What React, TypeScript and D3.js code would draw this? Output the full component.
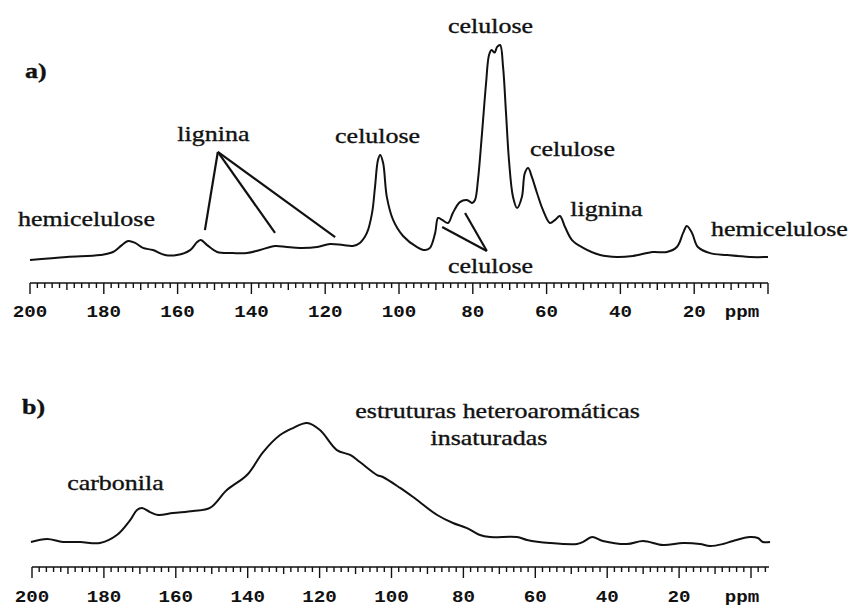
import React from "react";
import * as d3 from "d3";

// Panel a) — solid-state 13C NMR of the lignocellulosic material
const topPpm = [
  200, 190.0, 181.0, 177.5, 175.1, 173.4, 171.5, 169.4, 166.7, 163.4, 160.2, 156.6, 154.7, 153.7,
  152.0, 149.3, 145.0, 141.2, 137.7, 133.6, 130.4, 126.8, 122.2, 118.7, 115.2, 112.5, 110.6, 108.7,
  107.3, 106.5, 105.7, 105.1, 104.3, 103.3, 101.6, 98.9, 95.1, 92.9, 91.6, 90.2, 89.4, 88.3, 86.7,
  85.4, 83.5, 81.6, 80.2, 79.4, 78.6, 77.5, 76.4, 75.6, 74.9, 74.1, 73.4, 72.6, 71.8, 71.0, 70.2,
  69.1, 68.0, 66.7, 65.9, 65.0, 64.0, 62.6, 61.0, 59.1, 57.7, 56.4, 55.0, 53.1, 50.1, 45.5, 40.9,
  36.6, 31.2, 27.4, 24.7, 23.0, 22.0, 20.6, 19.0, 15.7, 11.1, 4.9, 0,
];
const topIntensity = [
  0.9, 2.3, 3.2, 4.6, 7.8, 9.7, 8.8, 6.5, 5.5, 3.2, 3.2, 5.5, 9.2, 10.1,
  7.8, 4.6, 4.1, 4.1, 5.5, 7.4, 6.9, 6.5, 6.9, 8.3, 7.8, 7.4, 8.8, 13.4,
  22.6, 34.6, 47.0, 49.3, 45.6, 30.0, 19.4, 12.0, 6.9, 5.5, 6.5, 13.4, 20.3, 19.4, 18.0,
  22.6, 27.6, 28.6, 27.2, 28.6, 37.8, 59.4, 82.5, 95.4, 97.7, 96.5, 99.1, 100, 89.9, 68.7, 47.0,
  30.0, 24.9, 30.0, 41.0, 43.3, 39.2, 31.8, 24.0, 18.0, 19.4, 21.2, 16.1, 10.1, 6.5, 3.2, 2.3,
  2.8, 4.6, 4.6, 6.9, 13.4, 16.6, 13.4, 6.9, 4.1, 3.2, 2.3, 2.3,
];

// Panel b) — spectrum of the carbonised product
const bottomPpm = [
  200.3, 195.8, 191.4, 186.6, 181.1, 176.4, 172.7, 170.8, 169.4, 167.2, 164.9, 160.8, 155.2, 150.5,
  145.8, 140.2, 135.7, 131.0, 127.4, 123.5, 119.9, 115.2, 111.5, 108.8, 104.0, 102.4, 97.6, 94.0,
  87.3, 82.9, 79.0, 75.4, 72.6, 65.1, 62.3, 55.9, 48.4, 46.7, 44.2, 41.2, 34.5, 30.0, 24.5, 18.9,
  14.2, 11.4, 7.8, 5.0, 0.3, -1.9, -3.3, -5.3,
];
const bottomIntensity = [
  3.3, 5.7, 3.3, 3.3, 2.4, 8.9, 21.1, 29.3, 30.9, 27.6, 25.2, 26.8, 28.5, 30.9,
  45.5, 57.7, 76.4, 90.2, 95.9, 100, 94.3, 78.0, 74.0, 68.3, 57.7, 56.1, 47.2, 39.8,
  25.2, 18.7, 14.6, 8.9, 7.3, 7.3, 4.9, 2.4, 1.6, 3.3, 7.3, 4.1, 1.6, 4.1, 0.8, 2.4,
  1.6, 0, 1.6, 4.1, 7.3, 6.5, 3.3, 3.3,
];

const majorTickValues = [200, 180, 160, 140, 120, 100, 80, 60, 40, 20];
const majorTickLabels = ["200", "180", "160", "140", "120", "100", "80", "60", "40", "20"];
const unitLabel = "ppm";

// Peak assignments: text, ppm, intensity (label baseline)
const topLabels = [
  { text: "celulose", ppm: 75.2, value: 105.5 },
  { text: "celulose", ppm: 105.8, value: 54.8 },
  { text: "lignina", ppm: 150.3, value: 55.8 },
  { text: "hemicelulose", ppm: 184.7, value: 16.6 },
  { text: "celulose", ppm: 53.0, value: 48.8 },
  { text: "lignina", ppm: 43.8, value: 21.2 },
  { text: "hemicelulose", ppm: -3.1, value: 12.0 },
  { text: "celulose", ppm: 75.2, value: -5.1 },
];
const bottomLabels = [
  { text: "carbonila", ppm: 176.8, value: 45.5 },
  { text: "estruturas heteroaromáticas", ppm: 70.5, value: 104.1 },
  { text: "insaturadas", ppm: 72.9, value: 82.1 },
];

// Leader lines: from a common apex to each assigned signal
const ligninaApex = { ppm: 149.1, value: 50.7 };
const ligninaTargets = [
  { ppm: 152.6, value: 14.7 },
  { ppm: 133.6, value: 13.4 },
  { ppm: 117.3, value: 11.5 },
];
const celuloseApex = { ppm: 76.2, value: 5.1 };
const celuloseTargets = [
  { ppm: 88.3, value: 16.1 },
  { ppm: 82.1, value: 22.6 },
];

const W = 850;
const H = 606;
const TEXT_STRETCH = 1.18;
const serif = "'Liberation Serif', 'Times New Roman', serif";
const mono = "'Liberation Mono', 'Courier New', monospace";

type AxisProps = {
  x: d3.ScaleLinear<number, number>;
  y: number;
  endPpm: number;
  labelY: number;
};

function PpmAxis({ x, y, endPpm, labelY }: AxisProps) {
  const minor = d3.range(200, endPpm - 0.01, -2);
  return (
    <g>
      <line x1={x(200)} x2={x(endPpm)} y1={y} y2={y} stroke="#111" strokeWidth={1.6} />
      {minor.map((v) => {
        const len = v % 20 === 0 ? 11 : v % 10 === 0 ? 7 : 5;
        return (
          <line key={v} x1={x(v)} x2={x(v)} y1={y} y2={y + len} stroke="#111" strokeWidth={1.4} />
        );
      })}
      {majorTickValues.map((v, i) => (
        <text
          key={v}
          transform={`translate(${x(v)},${labelY}) scale(1.2,1)`}
          textAnchor="middle"
          fontFamily={mono}
          fontWeight="bold"
          fontSize={16}
          fill="#111"
        >
          {majorTickLabels[i]}
        </text>
      ))}
      <text
        transform={`translate(742,${labelY}) scale(1.2,1)`}
        textAnchor="middle"
        fontFamily={mono}
        fontWeight="bold"
        fontSize={16}
        fill="#111"
      >
        {unitLabel}
      </text>
    </g>
  );
}

function Label({ x, y, text, anchor = "middle", bold = false }: { x: number; y: number; text: string; anchor?: string; bold?: boolean }) {
  return (
    <text
      transform={`translate(${x},${y}) scale(${TEXT_STRETCH},1)`}
      textAnchor={anchor}
      fontFamily={serif}
      fontSize={22}
      fontWeight={bold ? "bold" : "normal"}
      fill="#111"
      stroke="#111"
      strokeWidth={0.35}
    >
      {text}
    </text>
  );
}

export default function App() {
  const xTop = d3.scaleLinear().domain([200, 0]).range([30, 768]);
  const yTop = d3.scaleLinear().domain([0, 100]).range([262, 45]);
  const xBot = d3.scaleLinear().domain([200, 0]).range([32, 751]);
  const yBot = d3.scaleLinear().domain([0, 100]).range([546, 423]);

  const topData = topPpm.map((p, i) => [p, topIntensity[i]] as [number, number]);
  const botData = bottomPpm.map((p, i) => [p, bottomIntensity[i]] as [number, number]);

  const topLine = d3
    .line<[number, number]>()
    .x((d) => xTop(d[0]))
    .y((d) => yTop(d[1]))
    .curve(d3.curveCatmullRom.alpha(0.5));
  const botLine = d3
    .line<[number, number]>()
    .x((d) => xBot(d[0]))
    .y((d) => yBot(d[1]))
    .curve(d3.curveCatmullRom.alpha(0.5));

  return (
    <svg
      width={W}
      height={H}
      viewBox={`0 0 ${W} ${H}`}
      style={{ position: "absolute", left: 0, top: 0, background: "#fff" }}
    >
      <rect width={W} height={H} fill="#fff" />

      {/* a) */}
      <Label x={25} y={78} text="a)" anchor="start" bold />
      <path d={topLine(topData) || ""} fill="none" stroke="#111" strokeWidth={2} strokeLinejoin="round" />
      {ligninaTargets.map((t, i) => (
        <line
          key={`lg${i}`}
          x1={xTop(ligninaApex.ppm)}
          y1={yTop(ligninaApex.value)}
          x2={xTop(t.ppm)}
          y2={yTop(t.value)}
          stroke="#111"
          strokeWidth={2.2}
        />
      ))}
      {celuloseTargets.map((t, i) => (
        <line
          key={`cl${i}`}
          x1={xTop(celuloseApex.ppm)}
          y1={yTop(celuloseApex.value)}
          x2={xTop(t.ppm)}
          y2={yTop(t.value)}
          stroke="#111"
          strokeWidth={2.2}
        />
      ))}
      {topLabels.map((l, i) => (
        <Label key={`tl${i}`} x={xTop(l.ppm)} y={yTop(l.value)} text={l.text} />
      ))}
      <PpmAxis x={xTop} y={283} endPpm={0} labelY={317} />

      {/* b) */}
      <Label x={22} y={414} text="b)" anchor="start" bold />
      <path d={botLine(botData) || ""} fill="none" stroke="#111" strokeWidth={2} strokeLinejoin="round" />
      {bottomLabels.map((l, i) => (
        <Label key={`bl${i}`} x={xBot(l.ppm)} y={yBot(l.value)} text={l.text} />
      ))}
      <PpmAxis x={xBot} y={567} endPpm={-5} labelY={602} />
    </svg>
  );
}
